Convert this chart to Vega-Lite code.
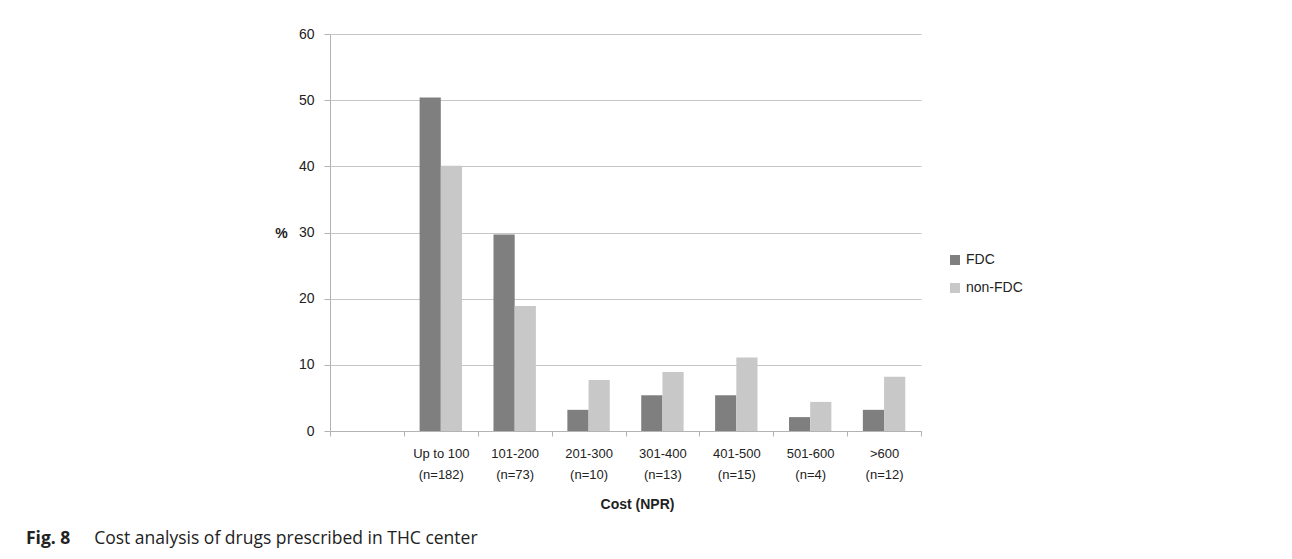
{
  "$schema": "https://vega.github.io/schema/vega-lite/v6.json",
  "width": 591,
  "height": 397,
  "autosize": {"type": "none"},
  "padding": {"left": 330, "top": 34, "right": 371, "bottom": 128},
  "background": "white",
  "config": {
    "view": {"stroke": null},
    "font": "Liberation Sans"
  },
  "title": {
    "text": "Fig. 8",
    "subtitle": "\u200b\u00a0\u00a0\u00a0\u00a0\u00a0\u00a0\u00a0\u00a0\u00a0\u00a0\u00a0\u00a0\u00a0\u00a0\u00a0Cost analysis of drugs prescribed in THC center",
    "orient": "bottom",
    "anchor": "start",
    "frame": "group",
    "font": "Open Sans",
    "fontSize": 17.5,
    "fontWeight": "bold",
    "color": "#222222",
    "subtitleFont": "Open Sans",
    "subtitleFontSize": 17.5,
    "subtitleFontWeight": "normal",
    "subtitleColor": "#222222",
    "subtitlePadding": -17.5,
    "dx": -304,
    "offset": 19
  },
  "data": {
    "values": [
      {"cost": "Up to 100 (n=182)", "type": "FDC", "pct": 50.4},
      {"cost": "Up to 100 (n=182)", "type": "non-FDC", "pct": 40.1},
      {"cost": "101-200 (n=73)", "type": "FDC", "pct": 29.7},
      {"cost": "101-200 (n=73)", "type": "non-FDC", "pct": 18.9},
      {"cost": "201-300 (n=10)", "type": "FDC", "pct": 3.2},
      {"cost": "201-300 (n=10)", "type": "non-FDC", "pct": 7.7},
      {"cost": "301-400 (n=13)", "type": "FDC", "pct": 5.4},
      {"cost": "301-400 (n=13)", "type": "non-FDC", "pct": 8.9},
      {"cost": "401-500 (n=15)", "type": "FDC", "pct": 5.4},
      {"cost": "401-500 (n=15)", "type": "non-FDC", "pct": 11.1},
      {"cost": "501-600 (n=4)", "type": "FDC", "pct": 2.1},
      {"cost": "501-600 (n=4)", "type": "non-FDC", "pct": 4.4},
      {"cost": ">600 (n=12)", "type": "FDC", "pct": 3.2},
      {"cost": ">600 (n=12)", "type": "non-FDC", "pct": 8.2}
    ]
  },
  "mark": {"type": "bar"},
  "encoding": {
    "x": {
      "field": "cost",
      "type": "nominal",
      "sort": null,
      "scale": {
        "domain": [" ", "Up to 100 (n=182)", "101-200 (n=73)", "201-300 (n=10)", "301-400 (n=13)", "401-500 (n=15)", "501-600 (n=4)", ">600 (n=12)"],
        "paddingInner": 0,
        "paddingOuter": 0
      },
      "axis": {
        "title": "Cost (NPR)",
        "titleFontSize": 14,
        "titleFontWeight": "bold",
        "titleColor": "#222222",
        "titleX": 307,
        "titleY": 73,
        "titleBaseline": "middle",
        "titleAlign": "center",
        "labelAngle": 0,
        "labelFontSize": 13,
        "labelColor": "#222222",
        "labelLineHeight": 21,
        "labelPadding": 11,
        "labelExpr": "indexof(datum.label, ' (') < 0 ? '' : [substring(datum.label, 0, indexof(datum.label, ' (')), substring(datum.label, indexof(datum.label, ' (') + 1)]",
        "tickBand": "extent",
        "tickSize": 5,
        "tickColor": "#b3b3b3",
        "domainColor": "#b3b3b3",
        "grid": false
      }
    },
    "xOffset": {
      "field": "type",
      "type": "nominal",
      "scale": {"domain": ["FDC", "non-FDC"], "paddingInner": 0, "paddingOuter": 0.742}
    },
    "y": {
      "field": "pct",
      "type": "quantitative",
      "scale": {"domain": [0, 60], "nice": false},
      "axis": {
        "title": "%",
        "titleAngle": 0,
        "titleFontSize": 14,
        "titleFontWeight": "bold",
        "titleColor": "#222222",
        "titleX": -49,
        "titleY": 199,
        "titleAlign": "center",
        "titleBaseline": "middle",
        "values": [0, 10, 20, 30, 40, 50, 60],
        "labelFontSize": 14,
        "labelColor": "#222222",
        "labelPadding": 10,
        "tickSize": 6,
        "tickColor": "#b3b3b3",
        "domainColor": "#b3b3b3",
        "grid": true,
        "gridColor": "#c6c6c6"
      }
    },
    "color": {
      "field": "type",
      "type": "nominal",
      "scale": {"domain": ["FDC", "non-FDC"], "range": ["#7f7f7f", "#c7c8c7"]},
      "legend": {
        "title": null,
        "orient": "none",
        "legendX": 618,
        "legendY": 219,
        "symbolType": "square",
        "symbolSize": 100,
        "symbolStrokeWidth": 0,
        "labelFontSize": 14,
        "labelColor": "#222222",
        "labelOffset": 4,
        "rowPadding": 14
      }
    }
  }
}
